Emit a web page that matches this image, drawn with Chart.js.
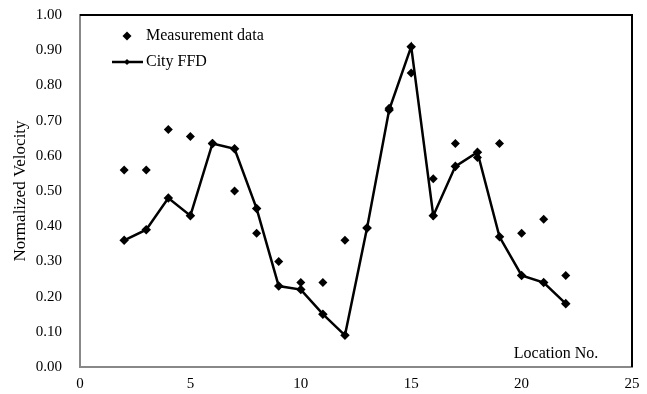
<!DOCTYPE html>
<html lang="en">
<head>
    <meta charset="UTF-8">
    <title>Normalized Velocity</title>
    <script src="https://cdn.jsdelivr.net/npm/chart.js@4.4.0/dist/chart.umd.min.js"></script>
    <style>
        html, body { margin: 0; padding: 0; background: #fff; }
        #wrap { width: 647px; height: 394px; }
    </style>
</head>
<body>
    <div id="wrap"><canvas id="velocityChart" width="647" height="394"></canvas></div>
    <script>
        const locations = [2, 3, 4, 5, 6, 7, 8, 9, 10, 11, 12, 13, 14, 15, 16, 17, 18, 19, 20, 21, 22];
        const measured = [0.56, 0.56, 0.675, 0.655, 0.635, 0.50, 0.38, 0.30, 0.24, 0.24, 0.36, 0.395, 0.735, 0.835, 0.535, 0.635, 0.595, 0.635, 0.38, 0.42, 0.26];
        const cityFFD = [0.36, 0.39, 0.48, 0.43, 0.635, 0.62, 0.45, 0.23, 0.22, 0.15, 0.09, 0.395, 0.73, 0.91, 0.43, 0.57, 0.61, 0.37, 0.26, 0.24, 0.18];
        const seriesNames = ['Measurement data', 'City FFD'];
        const xTitle = 'Location No.';
        const yTitle = 'Normalized Velocity';

        const FONT = "'Liberation Serif', 'Times New Roman', serif";

        // legend + top/right frame + x title drawn inside the plot area
        const extras = {
            id: 'extras',
            afterDraw(chart) {
                const ctx = chart.ctx;
                const a = chart.chartArea;
                ctx.save();
                ctx.strokeStyle = '#000';
                ctx.lineWidth = 2;
                ctx.beginPath();
                ctx.moveTo(a.left, a.top);
                ctx.lineTo(a.right, a.top);
                ctx.lineTo(a.right, a.bottom);
                ctx.stroke();

                ctx.fillStyle = '#000';
                ctx.font = '16px ' + FONT;
                ctx.textBaseline = 'middle';

                // measurement entry
                diamond(ctx, 127, 36, 4.5);
                ctx.fillText(seriesNames[0], 146, 36);

                // City FFD entry
                ctx.lineWidth = 2.5;
                ctx.beginPath();
                ctx.moveTo(112, 62);
                ctx.lineTo(143, 62);
                ctx.stroke();
                diamond(ctx, 127, 62, 3);
                ctx.fillText(seriesNames[1], 146, 62);

                ctx.textAlign = 'center';
                ctx.fillText(xTitle, 556, 354);
                ctx.restore();
            }
        };

        function diamond(ctx, x, y, r) {
            ctx.beginPath();
            ctx.moveTo(x, y - r);
            ctx.lineTo(x + r, y);
            ctx.lineTo(x, y + r);
            ctx.lineTo(x - r, y);
            ctx.closePath();
            ctx.fill();
        }

        const ctx = document.getElementById('velocityChart').getContext('2d');
        new Chart(ctx, {
            type: 'scatter',
            data: {
                datasets: [
                    {
                        label: seriesNames[0],
                        data: locations.map((x, i) => ({ x: x, y: measured[i] })),
                        showLine: false,
                        pointStyle: 'rectRot',
                        pointRadius: 4.5,
                        backgroundColor: '#000',
                        borderColor: '#000',
                        borderWidth: 0
                    },
                    {
                        label: seriesNames[1],
                        data: locations.map((x, i) => ({ x: x, y: cityFFD[i] })),
                        showLine: true,
                        pointStyle: 'rectRot',
                        pointRadius: 3,
                        backgroundColor: '#000',
                        borderColor: '#000',
                        borderWidth: 2.5,
                        tension: 0
                    }
                ]
            },
            options: {
                responsive: false,
                animation: false,
                layout: { padding: { top: 15, right: 15, left: 0, bottom: 0 } },
                plugins: {
                    legend: { display: false },
                    tooltip: { enabled: false }
                },
                scales: {
                    x: {
                        type: 'linear',
                        min: 0,
                        max: 25,
                        grid: { display: false, drawTicks: false },
                        border: { display: true, color: '#888', width: 2 },
                        ticks: {
                            stepSize: 5,
                            padding: 8,
                            color: '#000',
                            font: { family: FONT, size: 15 }
                        },
                        afterFit(scale) {
                            scale.height = 27;
                            scale.paddingLeft = 0;
                            scale.paddingRight = 0;
                        }
                    },
                    y: {
                        min: 0,
                        max: 1,
                        grid: { display: false, drawTicks: false },
                        border: { display: true, color: '#888', width: 2 },
                        ticks: {
                            stepSize: 0.1,
                            padding: 18,
                            color: '#000',
                            font: { family: FONT, size: 15 },
                            callback: v => v.toFixed(2)
                        },
                        title: {
                            display: true,
                            text: yTitle,
                            color: '#000',
                            font: { family: FONT, size: 17 },
                            padding: { top: 10, bottom: 0 }
                        },
                        afterFit(scale) {
                            scale.width = 80;
                            scale.paddingTop = 0;
                            scale.paddingBottom = 0;
                        }
                    }
                }
            },
            plugins: [extras]
        });
    </script>
</body>
</html>
